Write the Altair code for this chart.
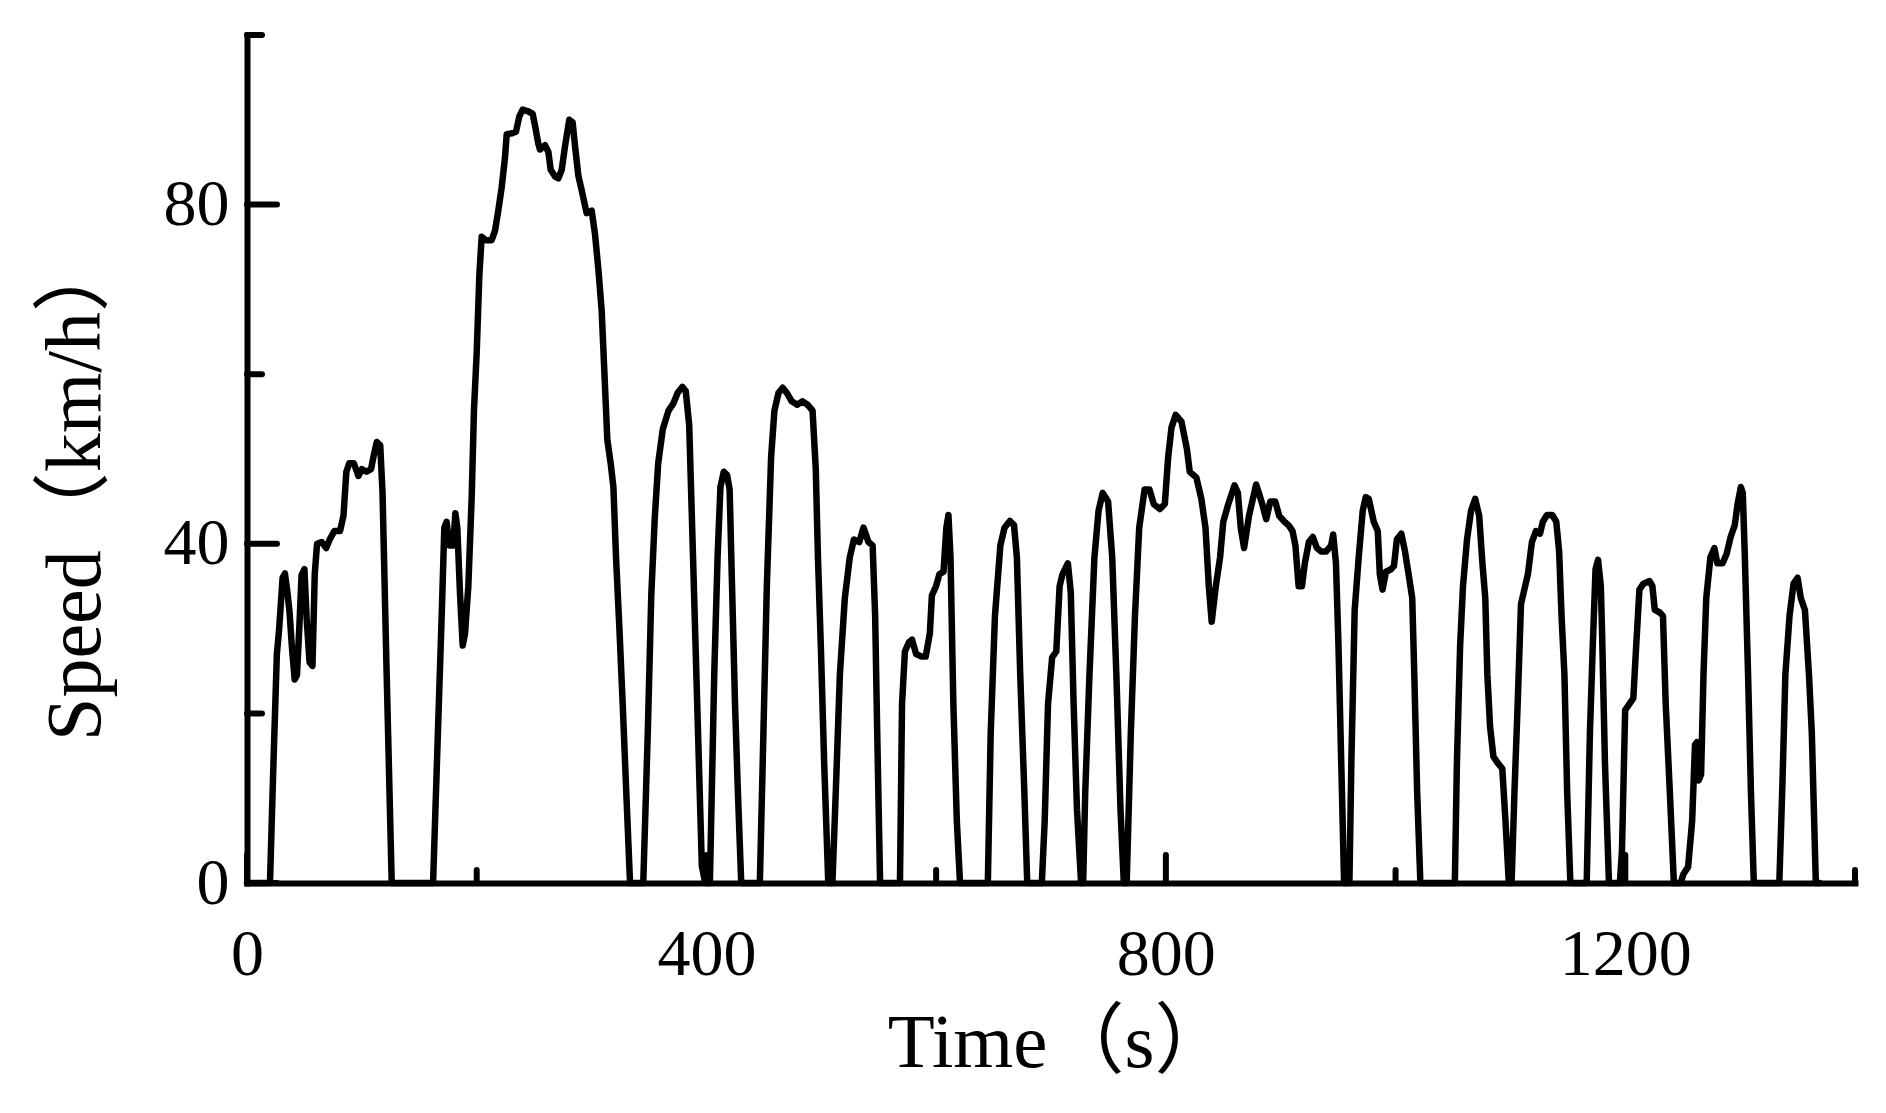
import altair as alt
import pandas as pd

# ---- data (UDDS-like driving cycle) ----
time_s = [
    0, 20, 23, 26, 28, 31, 33, 35, 37, 39, 41.5, 43.5, 45.5, 47.5, 50, 52, 54.5, 57, 59, 61,
    65, 69, 72, 76, 81, 84, 86.5, 89, 93, 97, 100, 104, 108, 110, 113, 116, 118, 121.6, 126,
    162, 165.7, 169.5, 171.8, 173.8, 176.2, 179.6, 181.4, 183.1, 185.4, 187.8, 189.8, 192.7,
    195.6, 197.6, 200, 202.3, 204.3, 208.1, 213, 215.9, 218.8, 221.7, 224.6, 226.1, 230.4,
    234.2, 237.1, 240, 244.9, 248.7, 250.8, 253.6, 255.1, 259.5, 262.4, 264.4, 268.2, 271.1,
    274, 276.9, 280.6, 283.5, 285.6, 288.5, 291.4, 295.7, 300.1, 303, 305.9, 308.8, 310.8,
    313.7, 316.6, 319, 321.3, 324.2, 327.1, 330, 333.5,
    345, 349, 352, 355, 358, 362, 367, 371, 375, 379, 382, 385, 388, 392, 396, 399,
    403, 406.8, 409.7, 412.2, 415.1, 418, 420.2, 422.3, 424.9, 427.4, 430.3,
    446.5, 449, 452.6, 456.3, 459.2, 462.8, 466.4, 470, 474.3, 479, 483.7, 488, 492.4, 495.2,
    497.1, 499.6, 502.5, 506.1,
    509.7, 512.6, 516.2, 520.5, 524.8, 528.4, 533.1, 536.7, 541.1, 544.7, 546.9, 548.7, 551.2,
    568.5, 570.3, 572.8, 576.4, 579, 582.6, 587.3, 590.9, 594.5, 596.3, 599.9, 602.8, 606.4,
    608.9, 610.7, 612.5, 615, 618, 620.8,
    645, 647.5, 651.2, 655.9, 659.5, 664.2, 667.8, 670.3, 673.2, 676.8, 679.3,
    692, 694.5, 697.4, 701, 704.6, 707.5, 710, 714.7, 717.2, 719.7, 722.6, 726.2,
    728, 729.8, 733.5, 737.8, 741.4, 745, 749.7, 753.3, 756.9, 760.5, 763.4,
    765.9, 769.5, 773.1, 776.8, 781.5, 785.8, 789.4, 794.8, 799.1, 802, 804.9, 808.5, 813.6,
    818.3, 820.8, 826.6, 830.9, 834.5, 837.4, 839.9, 843.5, 847.2, 850, 854.4, 859.8, 862.7,
    865.2, 868.1, 872.4, 878.6, 881, 883.9, 887.4, 890.9, 895.2, 898.7, 903.3, 906.8, 910.3,
    912.8, 915.6, 918.5, 921, 924.5, 928, 931.5, 935.1, 939.6, 943.9, 945.7, 948.1, 950.3,
    952.7, 955.2,
    959.8, 961.5, 964.4, 967.9, 971.4, 974, 976.7, 981, 984.5, 986.3, 988.7, 991.6, 996.1,
    998.6, 1001.1, 1005, 1008.2, 1011, 1014.5, 1016.3, 1018.8, 1021.6,
    1051.6, 1053.4, 1056.2, 1058.7, 1062.2, 1065.7, 1069.3, 1072.8, 1075.6, 1078.1, 1079.9,
    1082.3, 1085.2, 1088.7, 1092.9, 1095.7, 1098.6,
    1101, 1103.5, 1106.3, 1109.2, 1111.6, 1115.2, 1118.7, 1122.2, 1125.8, 1128.2, 1131.8,
    1136.4, 1139.9, 1142.4, 1144.5, 1147, 1149.4, 1152.2,
    1166.4, 1169.2, 1171.7, 1174.1, 1176.3, 1178.7, 1179.8, 1182.3, 1185.8,
    1195.3, 1197.1, 1199.9, 1203.5, 1207, 1209.5, 1212.3, 1215.8, 1221.1, 1223.6, 1225.7,
    1230, 1232.8, 1235.2, 1238.8, 1242.3,
    1248.3, 1250.4, 1254.7, 1258.2, 1260.7, 1262.4, 1263.9, 1266, 1268.1, 1270.5, 1274.1,
    1277.6, 1280.1, 1284.7, 1288.2, 1291.7, 1295.3, 1297.8, 1300.6, 1302.3, 1304.1, 1306.9,
    1309.4, 1311.9,
    1334.1, 1336.6, 1339.4, 1343, 1346.5, 1350, 1352.8, 1356.4, 1359.9, 1362.4, 1365.9, 1369,
]
speed_kmh = [
    0, 0, 14, 27, 30, 36, 36.5, 34.5, 32, 28, 24, 24.5, 30, 36.3, 37, 31, 26, 25.6, 36.5, 40,
    40.2, 39.5, 40.5, 41.5, 41.5, 43.3, 48.5, 49.5, 49.5, 48, 48.8, 48.5, 48.8, 50.2, 52, 51.6, 46, 24.6, 0,
    0, 15.6, 31.5, 41.9, 42.6, 39.8, 39.8, 43.6, 41.9, 34.3, 28, 29.4, 35,
    45.4, 55.7, 62.6, 71.7, 76.2, 75.8, 75.8, 76.9, 79.3, 82, 85.5, 88.3, 88.4,
    88.6, 90.4, 91.2, 91, 90.7, 89.3, 87.2, 86.5, 87, 86.2, 84.1, 83.3, 83.1,
    84.1, 86.9, 90, 89.7, 86.9, 83.4, 81.7, 79, 79.3, 76.5, 72.4, 67.5, 61.3,
    52.3, 49.5, 46.7, 38.4, 30.1, 21.1, 11.4, 0,
    0, 18, 34, 43, 49.5, 53.5, 55.7, 56.5, 57.8, 58.5, 58, 54, 40, 21, 2, 0,
    0, 24.6, 38.4, 46.7, 48.5, 48.1, 46.4, 35, 21.1, 10.7, 0,
    0, 14.2, 35, 50.2, 55.7, 57.8, 58.4, 57.8, 56.8, 56.4, 56.8, 56.4, 55.7, 48.8,
    38.4, 28, 14.2, 0,
    0, 10.7, 24.6, 33.6, 38.4, 40.5, 40.2, 41.9, 40.2, 39.8, 31.5, 17.7, 0,
    0, 21.1, 27.3, 28.4, 28.7, 27, 26.7, 26.7, 29.4, 33.9, 35, 36.4, 36.7,
    41.9, 43.4, 38.4, 21.1, 7.3, 0,
    0, 17.7, 31.5, 39.8, 41.9, 42.7, 42.2, 38.4, 24.6, 10.7, 0,
    0, 7.3, 21.1, 26.6, 27.3, 35, 36.4, 37.7, 34.3, 21.1, 8.7, 0,
    0, 10.7, 24.6, 38.4, 43.9, 46, 45, 38.4, 24.6, 8.7, 0,
    0, 17.7, 31.5, 41.9, 46.4, 46.4, 44.7, 44.1, 44.7, 50.2, 53.7, 55.2, 54.4,
    51.2, 48.5, 47.8, 45.3, 41.9, 35, 30.8, 35, 38.4, 42.6, 44.7, 46.9, 46,
    41.9, 39.5, 43.3, 47, 46, 44.7, 42.9, 45, 45, 43.3, 42.6, 42.2, 41.5,
    39.8, 35, 35, 37.7, 40.2, 40.8, 39.5, 39.1, 39.1, 39.8, 41.1, 37.7, 28,
    14.2, 0,
    0, 14.2, 32.2, 38.4, 43.9, 45.5, 45.3, 42.6, 41.5, 36.4, 34.6, 36.7, 37,
    37.4, 40.5, 41.2, 39.1, 36.7, 33.6, 24.6, 10.7, 0,
    0, 14.2, 28, 35, 40.5, 43.9, 45.3, 43.3, 37.7, 33.6, 24.6,
    18.4, 14.9, 14.2, 13.5, 7.3, 0,
    0, 10.7, 21.1, 32.9, 34.3, 36.4, 40.2, 41.5, 41.2, 42.6, 43.4,
    43.4, 42.6, 39.1, 31.5, 24.6, 10.7, 0,
    0, 17.7, 28, 37, 38.1, 35, 29.4, 14.2, 0,
    0, 3.8, 20.4, 21.1, 21.8, 28, 34.6, 35.3, 35.6, 35, 32.2,
    31.9, 31.5, 21.1, 10.7, 0,
    0, 1, 1.9, 7.3, 16.3, 16.6, 12.1, 12.8, 24.6, 33.6, 38.4,
    39.5, 37.7, 37.7, 38.8, 40.8, 42.2, 44.7, 46.7, 46, 38.4, 24.6,
    10.7, 0,
    0, 10.7, 24.6, 31.5, 35.3, 36, 33.6, 32.2, 24.6, 17.7, 0, 0,
]

x_major = [0, 400, 800, 1200]
x_minor = [200, 600, 1000, 1400]
y_major = [0, 40, 80]
y_minor = [20, 60, 100]

W, H = 1608, 848
SERIF = "Liberation Serif"
TITLE_FONT = "Liberation Serif, Noto Sans CJK SC"

df = pd.DataFrame({"Time": time_s, "Speed": speed_kmh})

x_enc = alt.X(
    "Time:Q",
    scale=alt.Scale(domain=[0, 1400], nice=False, zero=False),
    axis=alt.Axis(
        values=x_major, format="d", title="Time（s）", ticks=False, grid=False,
        labelFont=SERIF, labelFontSize=66, labelColor="black",
        labelBaseline="alphabetic", labelPadding=91, labelFlush=False,
        titleFont=TITLE_FONT, titleFontSize=77, titleFontWeight="normal",
        titleColor="black", titleX=812, titleY=183,
        titleAlign="center", titleBaseline="alphabetic",
        domainColor="black", domainWidth=6, domainCap="square",
    ),
)
y_enc = alt.Y(
    "Speed:Q",
    scale=alt.Scale(domain=[0, 100], nice=False, zero=False),
    axis=alt.Axis(
        values=y_major, format="d", title="Speed（km/h）", ticks=False, grid=False,
        labelFont=SERIF, labelFontSize=66, labelColor="black",
        labelPadding=18, labelFlush=False,
        titleFont=TITLE_FONT, titleFontSize=78, titleFontWeight="normal",
        titleColor="black", titleAngle=270, titleX=-148, titleY=452,
        titleAlign="center", titleBaseline="alphabetic",
        domainColor="black", domainWidth=6, domainCap="square",
    ),
)

line = alt.Chart(df).mark_line(
    color="black", strokeWidth=6.5, strokeJoin="round", strokeCap="round"
).encode(x=x_enc, y=y_enc)

xt_major = alt.Chart(pd.DataFrame({"Time": x_major})).mark_rule(
    color="black", strokeWidth=6, strokeCap="round"
).encode(x=x_enc, y=alt.value(H), y2=alt.value(H - 28))
xt_minor = alt.Chart(pd.DataFrame({"Time": x_minor})).mark_rule(
    color="black", strokeWidth=6, strokeCap="round"
).encode(x=x_enc, y=alt.value(H), y2=alt.value(H - 13))
yt_major = alt.Chart(pd.DataFrame({"Speed": y_major})).mark_rule(
    color="black", strokeWidth=6, strokeCap="round"
).encode(y=y_enc, x=alt.value(0), x2=alt.value(30))
yt_minor = alt.Chart(pd.DataFrame({"Speed": y_minor})).mark_rule(
    color="black", strokeWidth=6, strokeCap="round"
).encode(y=y_enc, x=alt.value(0), x2=alt.value(15))

chart = (
    alt.layer(line, xt_major, xt_minor, yt_major, yt_minor)
    .properties(
        width=W, height=H,
        autosize=alt.AutoSizeParams(type="none"),
        padding={"left": 239, "top": 27, "right": 20, "bottom": 200},
        background="white",
    )
    .configure_view(stroke=None)
)

chart.save("out.html", embed_options={"renderer": "svg", "actions": False})
